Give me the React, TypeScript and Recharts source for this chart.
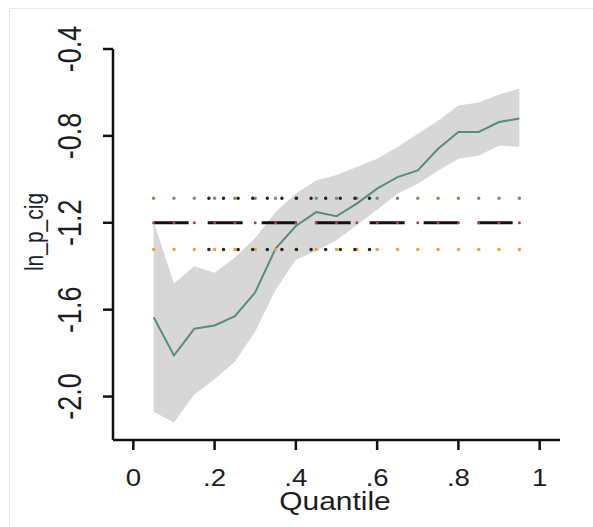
import React from "react";
import {
  ComposedChart,
  Area,
  Line,
  XAxis,
  YAxis,
  ReferenceLine,
} from "recharts";

// ---- data ----
const quantiles = [
  0.05, 0.1, 0.15, 0.2, 0.25, 0.3, 0.35, 0.4, 0.45, 0.5, 0.55, 0.6, 0.65, 0.7,
  0.75, 0.8, 0.85, 0.9, 0.95,
];
const coef = [
  -1.635, -1.811, -1.688, -1.673, -1.63, -1.52, -1.319, -1.215, -1.151, -1.17,
  -1.112, -1.043, -0.99, -0.959, -0.859, -0.782, -0.782, -0.736, -0.72,
];
const ciHigh = [
  -1.195, -1.48, -1.4, -1.43, -1.36, -1.27, -1.15, -1.065, -1.005, -0.98,
  -0.943, -0.905, -0.851, -0.79, -0.73, -0.66, -0.646, -0.61, -0.582,
];
const ciLow = [
  -2.07, -2.12, -1.99, -1.92, -1.84, -1.7, -1.51, -1.37, -1.33, -1.28, -1.21,
  -1.14, -1.066, -1.02, -0.96, -0.905, -0.89, -0.845, -0.85,
];
const olsCoef = -1.2;
const olsHigh = -1.087;
const olsLow = -1.323;
const blackDotStart = 0.186;
const blackDotEnd = 0.617;

const xTicks = [0, 0.2, 0.4, 0.6, 0.8, 1];
const yTicks = [-2.0, -1.6, -1.2, -0.8, -0.4];
const xDomain: [number, number] = [-0.05, 1.05];
const yDomain: [number, number] = [-2.2, -0.4];

const rows = quantiles.map((q, i) => ({
  q,
  coef: coef[i],
  lo: ciLow[i],
  hi: ciHigh[i],
}));

// ---- layout ----
const W = 593;
const H = 527;
const MARGIN = { top: 49, right: 33, bottom: 27, left: 13 };
const Y_AXIS_W = 100;
const X_AXIS_H = 60;
const PLOT_W = W - MARGIN.left - MARGIN.right - Y_AXIS_W;
const stepPx = (PLOT_W / (xDomain[1] - xDomain[0])) * 0.05;
const FONT = "'Liberation Sans', Arial, Helvetica, sans-serif";
const INK = "#1c1c24";

const fmtX = (v: number) => {
  if (v === 0) return "0";
  if (v === 1) return "1";
  return "." + Math.round(v * 10);
};

const XTick = (props: any) => {
  const { x, y, payload } = props;
  return (
    <text
      transform={`translate(${x},${y + 34}) scale(1.15,1)`}
      textAnchor="middle"
      fontSize={24}
      fontFamily={FONT}
      fill={INK}
    >
      {fmtX(payload.value)}
    </text>
  );
};

const YTick = (props: any) => {
  const { x, y, payload } = props;
  return (
    <text
      transform={`translate(${x - 20},${y}) scale(1.2,1) rotate(-90)`}
      textAnchor="middle"
      fontSize={27}
      fontFamily={FONT}
      fill={INK}
    >
      {Number(payload.value).toFixed(1)}
    </text>
  );
};

export default function App() {
  return (
    <div
      style={{
        position: "absolute",
        left: 0,
        top: 0,
        width: W,
        height: H,
        background: "#fff",
      }}
    >
      <ComposedChart width={W} height={H} data={rows} margin={MARGIN}>
        <XAxis
          dataKey="q"
          type="number"
          domain={xDomain}
          ticks={xTicks}
          allowDataOverflow
          height={X_AXIS_H}
          tickSize={10}
          axisLine={{ stroke: "#111", strokeWidth: 2.5 }}
          tickLine={{ stroke: "#111", strokeWidth: 2.5 }}
          tick={<XTick />}
        />
        <YAxis
          type="number"
          domain={yDomain}
          ticks={yTicks}
          allowDataOverflow
          width={Y_AXIS_W}
          tickSize={10}
          axisLine={{ stroke: "#111", strokeWidth: 2.5 }}
          tickLine={{ stroke: "#111", strokeWidth: 2.5 }}
          tick={<YTick />}
        />
        <Area
          dataKey={(d: any) => [d.lo, d.hi]}
          type="linear"
          stroke="none"
          fill="#d7d7d7"
          fillOpacity={1}
          isAnimationActive={false}
          activeDot={false}
        />
        <Line
          dataKey="coef"
          type="linear"
          stroke="#5a8c78"
          strokeWidth={2}
          dot={false}
          activeDot={false}
          isAnimationActive={false}
        />
        <ReferenceLine
          segment={[
            { x: quantiles[0], y: olsHigh },
            { x: quantiles[quantiles.length - 1], y: olsHigh },
          ]}
          stroke="#6e9b47"
          strokeWidth={3.5}
          strokeDasharray={`0 ${stepPx}`}
          strokeLinecap="round"
          ifOverflow="visible"
        />
        <ReferenceLine
          segment={[
            { x: quantiles[0], y: olsLow },
            { x: quantiles[quantiles.length - 1], y: olsLow },
          ]}
          stroke="#f0a030"
          strokeWidth={3.5}
          strokeDasharray={`0 ${stepPx}`}
          strokeLinecap="round"
          ifOverflow="visible"
        />
        <ReferenceLine
          segment={[
            { x: blackDotStart, y: olsHigh },
            { x: blackDotEnd, y: olsHigh },
          ]}
          stroke="#222"
          strokeWidth={3.5}
          strokeDasharray="0 14.6"
          strokeLinecap="round"
          ifOverflow="visible"
        />
        <ReferenceLine
          segment={[
            { x: blackDotStart, y: olsLow },
            { x: blackDotEnd, y: olsLow },
          ]}
          stroke="#222"
          strokeWidth={3.5}
          strokeDasharray="0 14.6"
          strokeLinecap="round"
          ifOverflow="visible"
        />
        <ReferenceLine
          segment={[
            { x: quantiles[0], y: olsCoef },
            { x: quantiles[quantiles.length - 1], y: olsCoef },
          ]}
          stroke="#111"
          strokeWidth={3}
          strokeDasharray="35 19"
          ifOverflow="visible"
        />
        <ReferenceLine
          segment={[
            { x: quantiles[0], y: olsCoef },
            { x: quantiles[quantiles.length - 1], y: olsCoef },
          ]}
          stroke="#b8374f"
          strokeWidth={3}
          strokeDasharray={`0 ${stepPx}`}
          strokeLinecap="round"
          ifOverflow="visible"
        />
      </ComposedChart>
      <svg
        width={W}
        height={H}
        style={{ position: "absolute", left: 0, top: 0, pointerEvents: "none" }}
      >
        <line x1={9.5} y1={8.5} x2={W} y2={8.5} stroke="#e2eaee" strokeWidth={1} />
        <line x1={9.5} y1={8.5} x2={9.5} y2={H} stroke="#e2eaee" strokeWidth={1} />
        <text
          transform={`translate(335,510) scale(1.15,1)`}
          textAnchor="middle"
          fontSize={26}
          fontFamily={FONT}
          fill={INK}
        >
          Quantile
        </text>
        <text
          transform={`translate(43,232) scale(1.2,1) rotate(-90)`}
          textAnchor="middle"
          fontSize={21}
          fontFamily={FONT}
          fill={INK}
        >
          ln_p_cig
        </text>
      </svg>
    </div>
  );
}
